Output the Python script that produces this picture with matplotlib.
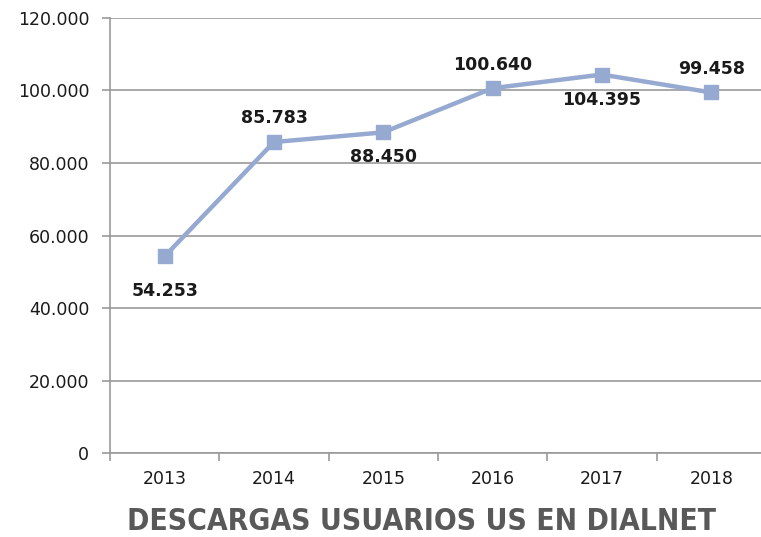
import matplotlib
matplotlib.use("Agg")
import matplotlib.pyplot as plt
from matplotlib.ticker import FuncFormatter, MultipleLocator

years = ["2013", "2014", "2015", "2016", "2017", "2018"]
downloads = [54253, 85783, 88450, 100640, 104395, 99458]
label_pos = ["below", "above", "below", "above", "below", "above"]
title = "DESCARGAS USUARIOS US EN DIALNET"

line_col = "#95a9d1"
grid_col = "#9a9a9a"


def thousands(v, pos):
    if v == 0:
        return "0"
    return "{:,.0f}".format(v / 1000).replace(",", ".") + ".000"


fig = plt.figure(figsize=(7.61, 5.37), dpi=100)
ax = fig.add_axes([0.1445, 0.1564, 0.862, 0.8101])

x = list(range(len(years)))
ax.plot(x, downloads, color=line_col, linewidth=3.2, marker="s", markersize=10,
        markerfacecolor=line_col, markeredgecolor=line_col, zorder=3, clip_on=False)

for i, (v, p) in enumerate(zip(downloads, label_pos)):
    dy = 17 if p == "above" else -18
    if i == 0:
        dy = -25
    txt = "{:,}".format(v).replace(",", ".")
    ax.annotate(txt, (i, v), xytext=(0, dy), textcoords="offset points",
                ha="center", va="center", fontsize=12.5, fontweight="bold",
                color="#1a1a1a")

ax.set_xlim(-0.5, len(years) - 0.5)
ax.set_ylim(0, 120000)
ax.yaxis.set_major_locator(MultipleLocator(20000))
ax.yaxis.set_major_formatter(FuncFormatter(thousands))
ax.set_xticks([i - 0.5 for i in x])
ax.set_xticklabels([])
ax.set_xticks(x, minor=True)
ax.set_xticklabels(years, minor=True)
ax.tick_params(axis="x", which="minor", length=0, pad=12)
ax.tick_params(axis="x", which="major", length=6, color=grid_col, width=1.2)
ax.tick_params(axis="y", length=6, color=grid_col, width=1.2, pad=9)
for lab in ax.get_xticklabels(minor=True) + ax.get_yticklabels():
    lab.set_fontsize(12.5)
    lab.set_color("#1a1a1a")

ax.grid(axis="y", color=grid_col, linewidth=1.2)
ax.set_axisbelow(True)
for s in ["top", "right"]:
    ax.spines[s].set_visible(False)
for s in ["left", "bottom"]:
    ax.spines[s].set_color(grid_col)
    ax.spines[s].set_linewidth(1.2)

fig.text(0.5545, 0.028, title, ha="center", va="center", fontsize=21.5,
         fontweight="bold", color="#595959", family="DejaVu Sans",
         fontstretch="condensed")

fig.savefig("out.png", dpi=100)
